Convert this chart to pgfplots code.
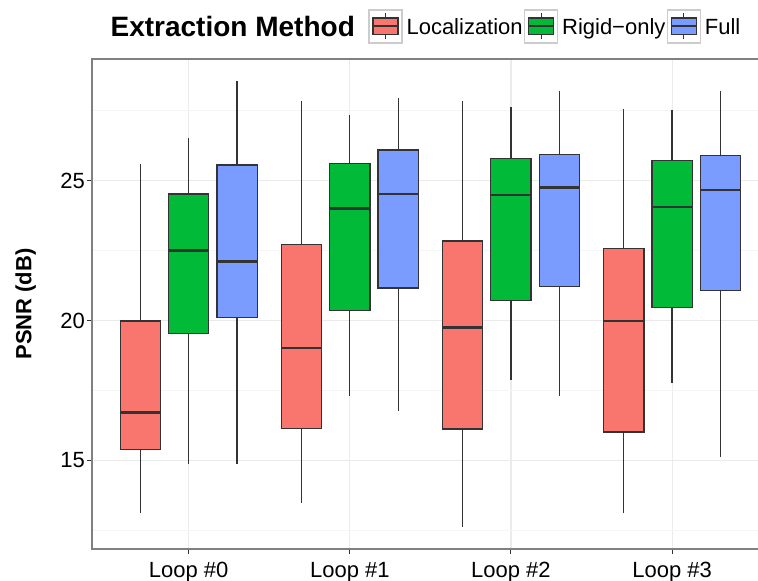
\documentclass[border=0pt]{standalone}
\usepackage{pgfplots}
\pgfplotsset{compat=1.18}
\usepgfplotslibrary{statistics}
\usepackage{fontspec}
\setmainfont{Liberation Sans}
\definecolor{cLoc}{HTML}{F8766D}
\definecolor{cRig}{HTML}{00BA38}
\definecolor{cFul}{HTML}{7A9BFF}
\definecolor{edge}{HTML}{333333}
\definecolor{majg}{HTML}{EBEBEB}
\definecolor{ming}{HTML}{F5F5F5}
\definecolor{border}{HTML}{808080}
\definecolor{keyb}{HTML}{CCCCCC}
\newcommand{\keyimg}[1]{\addlegendimage{legend image code/.code={
  \draw[draw=keyb, fill=white, line width=0.6pt] (0pt,-7.25pt) rectangle (16.5pt,9.25pt);
  \draw[draw=edge, line width=0.5pt] (8.25pt,-5.5pt) -- (8.25pt,7.5pt);
  \draw[draw=edge, fill=#1, line width=0.6pt] (2pt,-3.2pt) rectangle (14.5pt,5.2pt);
  \draw[draw=edge, line width=1pt] (2pt,1pt) -- (14.5pt,1pt);
}}}
\pgfplotsset{bxs/.style={draw=edge, line width=0.65pt, solid, mark=none}}
\begin{document}
\begin{tikzpicture}
\begin{axis}[
  scale only axis, width=338.4pt, height=245pt,
  at={(0pt,0pt)}, anchor=south west,
  xmin=-0.6, xmax=3.6, ymin=11.83, ymax=29.36,
  clip=false,
  xtick={0,1,2,3},
  xticklabels={Loop \#0, Loop \#1, Loop \#2, Loop \#3},
  ytick={15,20,25},
  minor ytick={12.5,17.5,22.5,27.5},
  xmajorgrids, ymajorgrids, yminorgrids,
  major grid style={draw=majg, line width=0.6pt},
  minor grid style={draw=ming, line width=0.5pt},
  axis line style={draw=border, line width=0.6pt},
  tick align=outside, xtick pos=bottom, ytick pos=left,
  major tick length=2.4pt, minor tick length=0pt,
  tick style={draw=edge, line width=0.5pt},
  /pgf/number format/assume math mode=true,
  ticklabel style={font=\fontsize{11}{13}\selectfont},
  yticklabel style={inner sep=1pt},
  xticklabel style={inner sep=0pt, yshift=-4pt},
  ylabel={\textbf{PSNR (dB)}},
  every axis y label/.style={at={(axis description cs:-0.098,0.5)}, rotate=90, anchor=center, font=\fontsize{11}{13}\selectfont},
  boxplot/draw direction=y,
  boxplot/box extend=0.25,
  boxplot/whisker extend=0,
  boxplot/every median/.style={line width=1.3pt},
  legend columns=-1,
  legend style={at={(axis description cs:0.4083,1.0665)}, anchor=west,
    draw=none, fill=none, inner sep=0pt, outer sep=0pt,
    font=\fontsize{11}{13}\selectfont,
    nodes={inner sep=0pt},
    /tikz/every odd column/.append style={column sep=2pt},
    /tikz/every even column/.append style={column sep=0.6pt}},
]
\keyimg{cLoc}\addlegendentry{Localization}
\keyimg{cRig}\addlegendentry{Rigid\textminus only}
\keyimg{cFul}\addlegendentry{Full}
% Loop #0
\addplot+[bxs, fill=cLoc, boxplot prepared={draw position=-0.3, lower whisker=13.10, lower quartile=15.40, median=16.71, upper quartile=19.99, upper whisker=25.60}] coordinates {};
\addplot+[bxs, fill=cRig, boxplot prepared={draw position=0, lower whisker=14.86, lower quartile=19.54, median=22.51, upper quartile=24.53, upper whisker=26.53}] coordinates {};
\addplot+[bxs, fill=cFul, boxplot prepared={draw position=0.3, lower whisker=14.86, lower quartile=20.12, median=22.11, upper quartile=25.57, upper whisker=28.58}] coordinates {};
% Loop #1
\addplot+[bxs, fill=cLoc, boxplot prepared={draw position=0.7, lower whisker=13.48, lower quartile=16.14, median=19.02, upper quartile=22.73, upper whisker=27.86}] coordinates {};
\addplot+[bxs, fill=cRig, boxplot prepared={draw position=1, lower whisker=17.32, lower quartile=20.36, median=24.01, upper quartile=25.62, upper whisker=27.36}] coordinates {};
\addplot+[bxs, fill=cFul, boxplot prepared={draw position=1.3, lower whisker=16.78, lower quartile=21.17, median=24.53, upper quartile=26.10, upper whisker=27.96}] coordinates {};
% Loop #2
\addplot+[bxs, fill=cLoc, boxplot prepared={draw position=1.7, lower whisker=12.62, lower quartile=16.12, median=19.75, upper quartile=22.85, upper whisker=27.86}] coordinates {};
\addplot+[bxs, fill=cRig, boxplot prepared={draw position=2, lower whisker=17.89, lower quartile=20.72, median=24.50, upper quartile=25.79, upper whisker=27.64}] coordinates {};
\addplot+[bxs, fill=cFul, boxplot prepared={draw position=2.3, lower whisker=17.29, lower quartile=21.22, median=24.76, upper quartile=25.94, upper whisker=28.23}] coordinates {};
% Loop #3
\addplot+[bxs, fill=cLoc, boxplot prepared={draw position=2.7, lower whisker=13.13, lower quartile=16.02, median=19.98, upper quartile=22.58, upper whisker=27.57}] coordinates {};
\addplot+[bxs, fill=cRig, boxplot prepared={draw position=3, lower whisker=17.78, lower quartile=20.46, median=24.06, upper quartile=25.72, upper whisker=27.52}] coordinates {};
\addplot+[bxs, fill=cFul, boxplot prepared={draw position=3.3, lower whisker=15.12, lower quartile=21.08, median=24.68, upper quartile=25.91, upper whisker=28.23}] coordinates {};
\node[anchor=east, inner sep=0pt, font=\bfseries\fontsize{14}{16}\selectfont]
  at (axis description cs:0.389,1.0655) {Extraction Method};
\end{axis}
\pgfresetboundingbox
\path[use as bounding box] (-46pt,-16pt) rectangle (333pt,274.5pt);
\end{tikzpicture}
\end{document}
